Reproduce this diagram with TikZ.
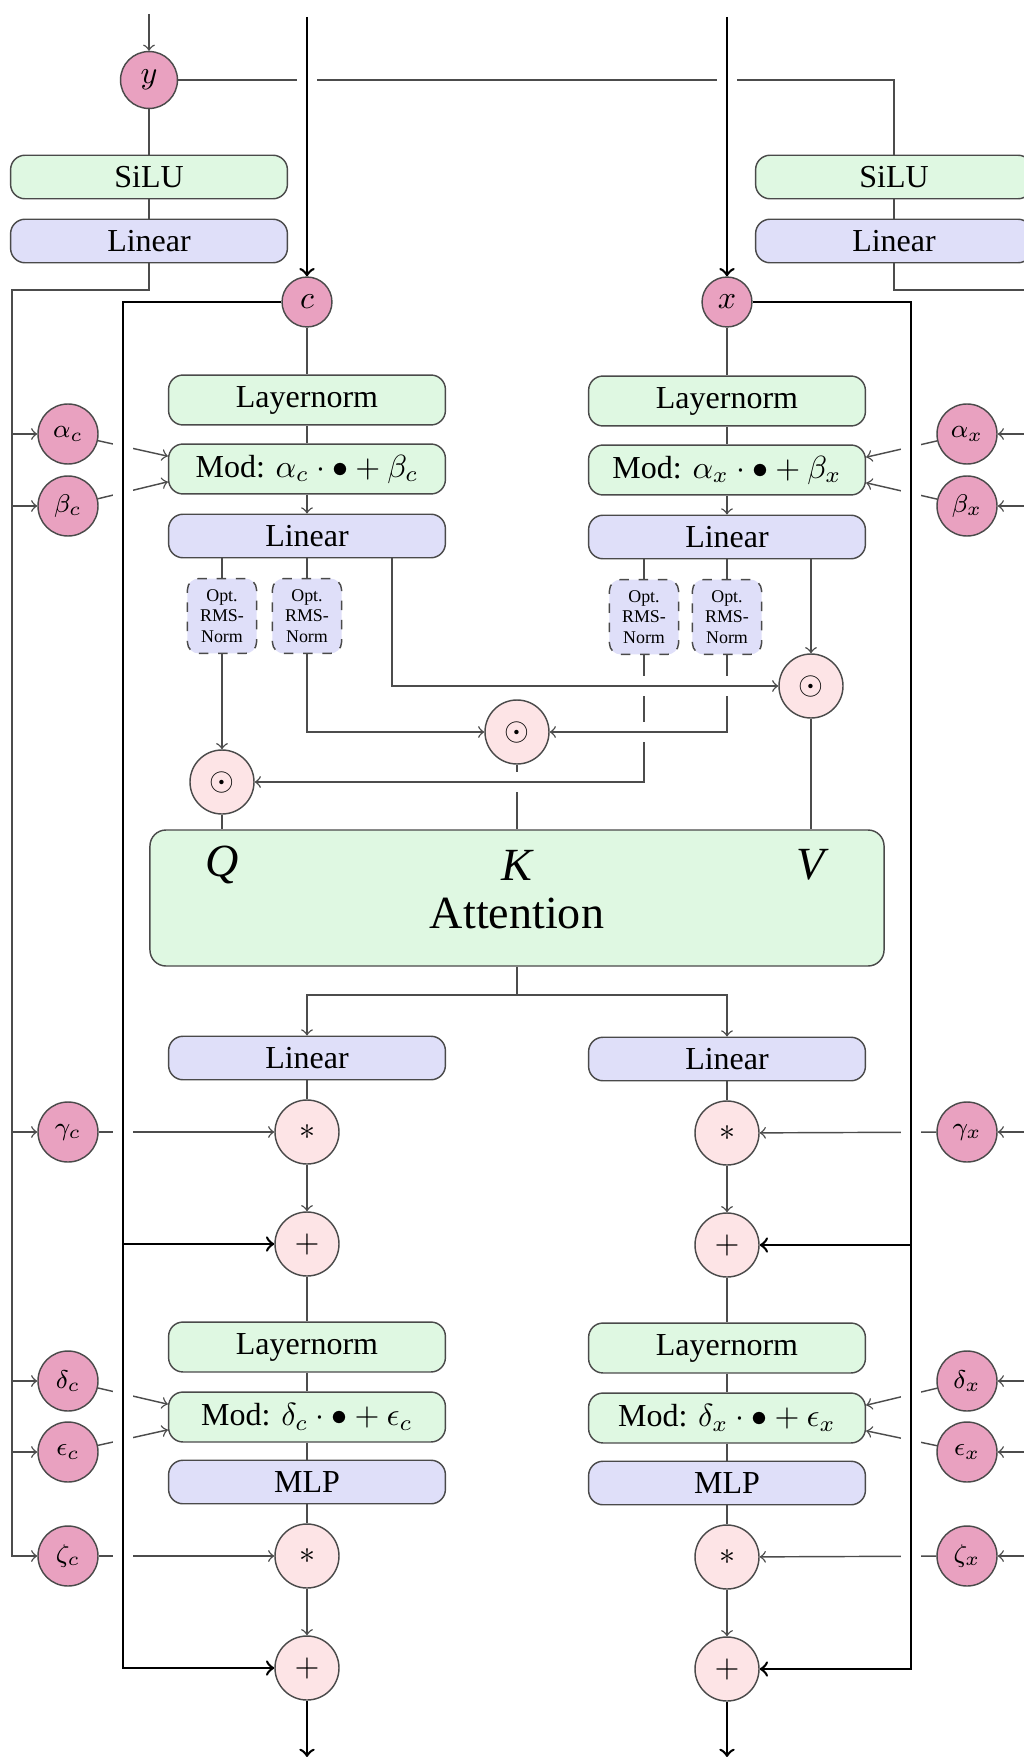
\documentclass[tikz,border=0pt]{standalone}
\usepackage{fontspec}
\setmainfont{Liberation Serif}
\usetikzlibrary{calc}
\definecolor{pinkc}{HTML}{E9A1C0}
\definecolor{greenb}{HTML}{DFF8E2}
\definecolor{blueb}{HTML}{DFDFF9}
\definecolor{opc}{HTML}{FDE4E6}
\definecolor{edgec}{HTML}{4A4A4A}
\pgfdeclarelayer{bg}
\pgfsetlayers{bg,main}
\tikzset{
  box/.style={draw=edgec, rounded corners=4.5pt, minimum width=86.5pt, inner sep=0pt, line width=0.45pt},
  gbox/.style={box, fill=greenb},
  bbox/.style={box, fill=blueb},
  tallbox/.style={minimum height=15.6pt},
  lowbox/.style={minimum height=13.6pt},
  optbox/.style={draw=edgec, dashed, fill=blueb, rounded corners=3.5pt, minimum width=21.6pt, minimum height=23.4pt, inner sep=0pt, align=center, font=\fontsize{5.6}{6.3}\selectfont, line width=0.45pt},
  incirc/.style={circle, draw=edgec, fill=pinkc, inner sep=0pt, line width=0.45pt},
  greek/.style={incirc, minimum size=18.75pt, font=\footnotesize},
  opcirc/.style={circle, draw=edgec, fill=opc, minimum size=20pt, inner sep=0pt, line width=0.45pt},
  conn/.style={draw=black!70, line width=0.45pt},
  arr/.style={conn, ->},
  thickln/.style={draw=black, line width=0.8pt},
  gapw/.style={preaction={draw=white, line width=6pt, arrows=-}},
}
\begin{document}
\begin{tikzpicture}[x=0.3125pt, y=-0.3125pt]
\useasboundingbox (0,0) rectangle (1024,1757);

% ---- top inputs ----
\node[incirc, minimum size=17.8pt] (y) at (149,80) {$y$};
\node[gbox, lowbox] (siluL) at (149,177) {SiLU};
\node[bbox, lowbox] (linL) at (149,241) {Linear};
\node[gbox, lowbox] (siluR) at (894,177) {SiLU};
\node[bbox, lowbox] (linR) at (894,241) {Linear};
\node[incirc, minimum size=15.6pt] (c) at (307,302) {$c$};
\node[incirc, minimum size=15.6pt] (x) at (727,302) {$x$};

% ---- greek circles ----
\node[greek] (ac) at (68,434) {$\alpha_c$};
\node[greek] (bc) at (68,506) {$\beta_c$};
\node[greek] (gc) at (68,1132) {$\gamma_c$};
\node[greek] (dc) at (68,1381) {$\delta_c$};
\node[greek] (ec) at (68,1452) {$\epsilon_c$};
\node[greek] (zc) at (68,1556) {$\zeta_c$};
\node[greek] (ax) at (967,434) {$\alpha_x$};
\node[greek] (bx) at (967,506) {$\beta_x$};
\node[greek] (gx) at (967,1132) {$\gamma_x$};
\node[greek] (dx) at (967,1381) {$\delta_x$};
\node[greek] (ex) at (967,1452) {$\epsilon_x$};
\node[greek] (zx) at (967,1556) {$\zeta_x$};

% ---- left column ----
\node[gbox, tallbox] (lnc) at (307,400) {Layernorm};
\node[gbox, tallbox] (modc) at (307,469) {Mod: $\alpha_c\cdot\bullet+\beta_c$};
\node[bbox, lowbox] (linc) at (307,536) {Linear};
\node[optbox] (oc1) at (222,616) {Opt.\\RMS-\\Norm};
\node[optbox] (oc2) at (307,616) {Opt.\\RMS-\\Norm};

% ---- right column ----
\node[gbox, tallbox] (lnx) at (727,401) {Layernorm};
\node[gbox, tallbox] (modx) at (727,470) {Mod: $\alpha_x\cdot\bullet+\beta_x$};
\node[bbox, lowbox] (linx) at (727,537) {Linear};
\node[optbox] (ox1) at (644,617) {Opt.\\RMS-\\Norm};
\node[optbox] (ox2) at (727,617) {Opt.\\RMS-\\Norm};

% ---- products ----
\node[opcirc] (qc) at (222,782) {$\odot$};
\node[opcirc] (kc) at (517,732) {$\odot$};
\node[opcirc] (vc) at (811,686) {$\odot$};

% ---- attention ----
\node[draw=edgec, fill=greenb, rounded corners=5pt, minimum width=229.4pt, minimum height=42.5pt, inner sep=0pt, line width=0.45pt] (att) at (517,898) {};
\node[font=\Large\itshape] (qlab) at (222,865) {Q};
\node[font=\Large\itshape] (klab) at (517,865) {K};
\node[font=\Large\itshape] (vlab) at (811,865) {V};
\node[font=\Large] (attlab) at (517,913) {Attention};

% ---- lower left ----
\node[bbox, lowbox] (lin2c) at (307,1058) {Linear};
\node[opcirc] (s1c) at (307,1132) {$*$};
\node[opcirc] (p1c) at (307,1244) {$+$};
\node[gbox, tallbox] (ln2c) at (307,1347) {Layernorm};
\node[gbox, tallbox] (mod2c) at (307,1417) {Mod: $\delta_c\cdot\bullet+\epsilon_c$};
\node[bbox, lowbox] (mlpc) at (307,1482) {MLP};
\node[opcirc] (s2c) at (307,1556) {$*$};
\node[opcirc] (p2c) at (307,1668) {$+$};

% ---- lower right ----
\node[bbox, lowbox] (lin2x) at (727,1059) {Linear};
\node[opcirc] (s1x) at (727,1133) {$*$};
\node[opcirc] (p1x) at (727,1245) {$+$};
\node[gbox, tallbox] (ln2x) at (727,1348) {Layernorm};
\node[gbox, tallbox] (mod2x) at (727,1418) {Mod: $\delta_x\cdot\bullet+\epsilon_x$};
\node[bbox, lowbox] (mlpx) at (727,1483) {MLP};
\node[opcirc] (s2x) at (727,1557) {$*$};
\node[opcirc] (p2x) at (727,1669) {$+$};

% ---- coordinates ----
\coordinate (yin) at (149,14);
\coordinate (yr) at (894,80);
\coordinate (oL1) at (149,290);
\coordinate (oL2) at (12,290);
\coordinate (oR1) at (894,290);
\coordinate (oR2) at (1040,290);
\coordinate (cin) at (307,17);
\coordinate (xin) at (727,17);
\coordinate (cl) at (123,302);
\coordinate (xr) at (911,302);
\coordinate (vbr) at (392,600);
\coordinate (split) at (517,995);
\coordinate (outc) at (307,1757);
\coordinate (outx) at (727,1757);

\begin{pgfonlayer}{bg}
\clip (0,0) rectangle (1024,1757);
% conditioning path
\draw[arr] (yin) -- (y);
\draw[conn] (y) -- (siluL);
\draw[conn] (siluL) -- (linL);
\draw[conn] (y) -- (yr) -- (siluR);
\draw[conn] (siluR) -- (linR);
\draw[arr] (linL) -- (oL1) -- (oL2) |- (zc);
\foreach \g in {ac,bc,gc,dc,ec} \draw[arr] (\g -| oL2) -- (\g);
\draw[arr] (linR) -- (oR1) -- (oR2) |- (zx);
\foreach \g in {ax,bx,gx,dx,ex} \draw[arr] (\g -| oR2) -- (\g);

% greek into blocks
\draw[arr] (ac) -- ([yshift=4pt]modc.west);
\draw[arr] (bc) -- ([yshift=-4pt]modc.west);
\draw[arr] (gc) -- (s1c);
\draw[arr] (dc) -- ([yshift=4pt]mod2c.west);
\draw[arr] (ec) -- ([yshift=-4pt]mod2c.west);
\draw[arr] (zc) -- (s2c);
\draw[arr] (ax) -- ([yshift=4pt]modx.east);
\draw[arr] (bx) -- ([yshift=-4pt]modx.east);
\draw[arr] (gx) -- (s1x);
\draw[arr] (dx) -- ([yshift=4pt]mod2x.east);
\draw[arr] (ex) -- ([yshift=-4pt]mod2x.east);
\draw[arr] (zx) -- (s2x);

% upper columns
\draw[conn] (c) -- (lnc);
\draw[conn] (lnc) -- (modc);
\draw[arr] (modc) -- (linc);
\draw[conn] (x) -- (lnx);
\draw[conn] (lnx) -- (modx);
\draw[arr] (modx) -- (linx);
\draw[conn] (linc.south -| oc1) -- (oc1);
\draw[conn] (linc.south -| oc2) -- (oc2);
\draw[conn] (linx.south -| ox1) -- (ox1);
\draw[conn] (linx.south -| ox2) -- (ox2);

% Q K V wiring
\draw[arr] (oc1) -- (qc);
\draw[arr] (oc2) |- (kc);
\draw[conn] (kc) -- (kc |- att.north);
\draw[conn] (qc) -- (qc |- att.north);
\draw[conn] (vc) -- (vc |- att.north);
\draw[arr, gapw] (ox1) |- (qc);
\draw[arr, gapw] (ox2) |- (kc);
\draw[arr, gapw] (linc.south -| vbr) |- (vc);
\draw[arr] (linx.south -| vc) -- (vc);

% attention out
\draw[conn] (att) -- (split);
\draw[arr] (split) -| (lin2c);
\draw[arr] (split) -| (lin2x);

% lower columns
\draw[conn] (lin2c) -- (s1c);
\draw[arr] (s1c) -- (p1c);
\draw[conn] (p1c) -- (ln2c);
\draw[conn] (ln2c) -- (mod2c);
\draw[conn] (mod2c) -- (mlpc);
\draw[conn] (mlpc) -- (s2c);
\draw[arr] (s2c) -- (p2c);
\draw[conn] (lin2x) -- (s1x);
\draw[arr] (s1x) -- (p1x);
\draw[conn] (p1x) -- (ln2x);
\draw[conn] (ln2x) -- (mod2x);
\draw[conn] (mod2x) -- (mlpx);
\draw[conn] (mlpx) -- (s2x);
\draw[arr] (s2x) -- (p2x);

% residual streams
\draw[thickln, ->, gapw] (cin) -- (c);
\draw[thickln, ->, gapw] (xin) -- (x);
\draw[thickln, ->, gapw] (c) -- (cl) |- (p2c);
\draw[thickln, ->] (p1c -| cl) -- (p1c);
\draw[thickln, ->, gapw] (x) -- (xr) |- (p2x);
\draw[thickln, ->] (p1x -| xr) -- (p1x);
\draw[thickln, ->] (p2c) -- (outc);
\draw[thickln, ->] (p2x) -- (outx);
\end{pgfonlayer}
\end{tikzpicture}
\end{document}
